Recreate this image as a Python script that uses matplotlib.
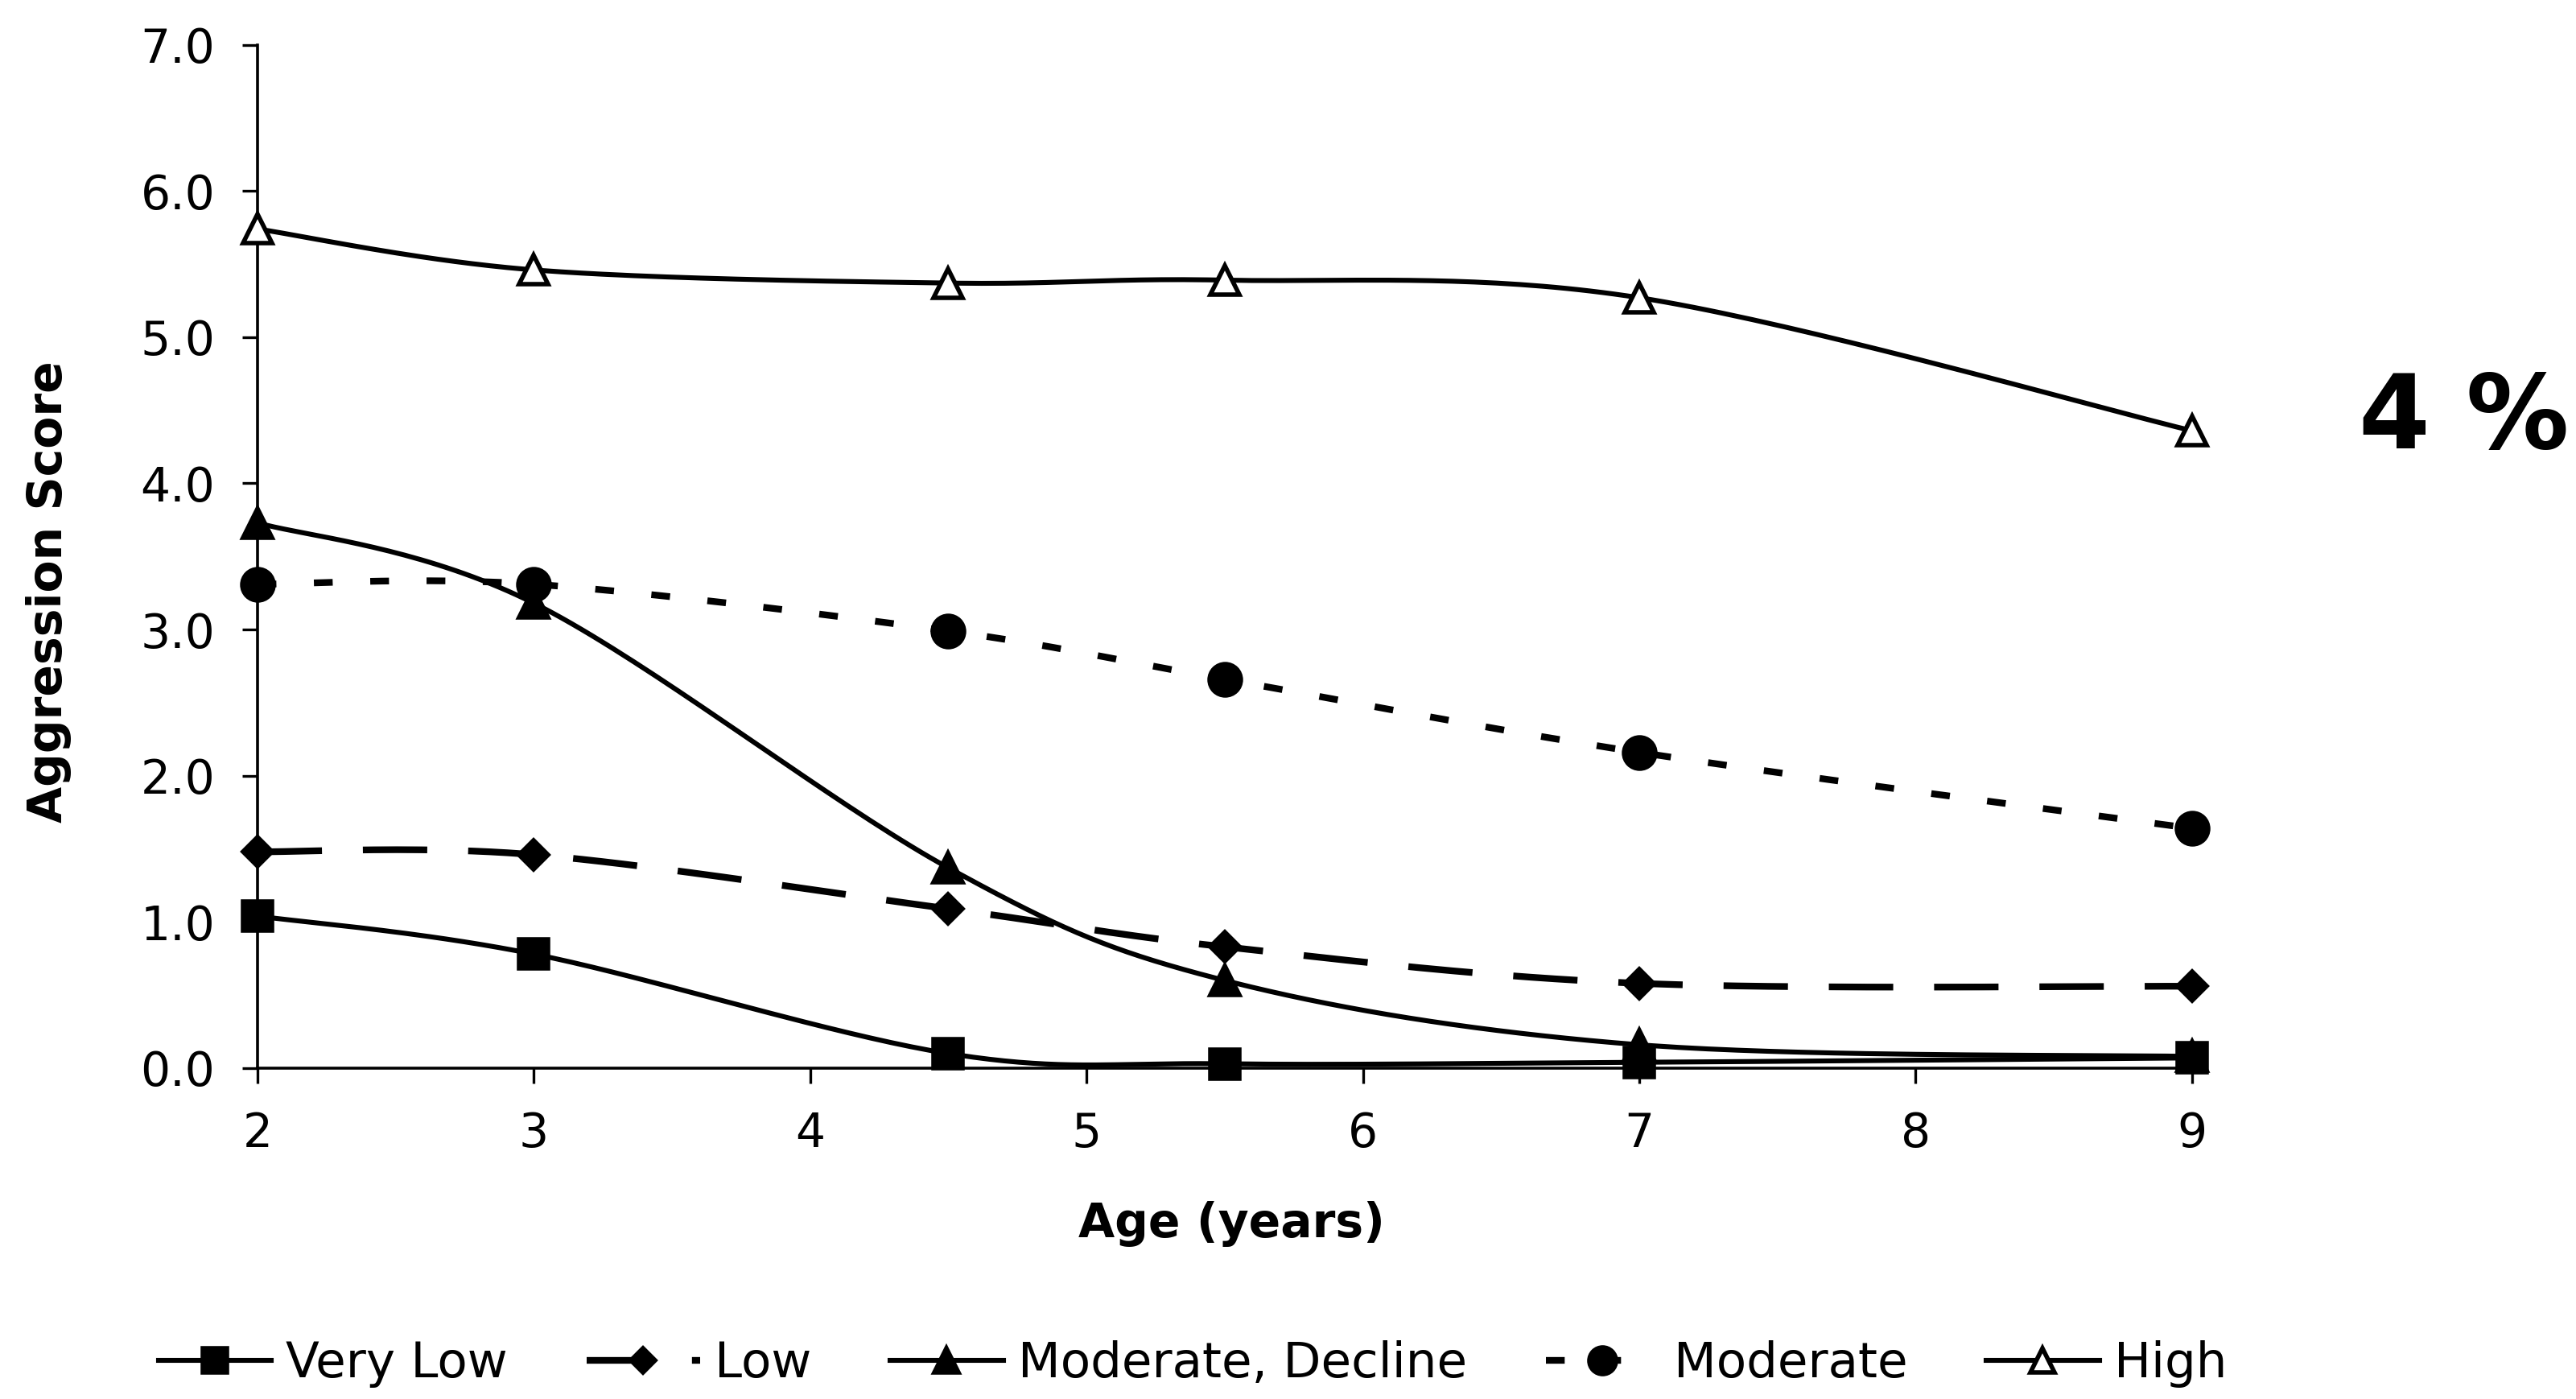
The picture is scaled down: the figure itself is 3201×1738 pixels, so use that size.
import matplotlib.pyplot as plt
from matplotlib.lines import Line2D
import numpy as np

plt.rcParams["font.family"] = "DejaVu Sans"

ages = [2, 3, 4.5, 5.5, 7, 9]
very_low = [1.04, 0.78, 0.10, 0.03, 0.04, 0.07]
low = [1.48, 1.46, 1.09, 0.83, 0.58, 0.56]
mod_decline = [3.73, 3.18, 1.37, 0.60, 0.16, 0.08]
moderate = [3.31, 3.31, 2.99, 2.66, 2.16, 1.64]
high = [5.74, 5.46, 5.37, 5.39, 5.27, 4.36]

labels = ["Very Low", "Low", "Moderate, Decline", "Moderate", "High"]
yticks = [0, 1, 2, 3, 4, 5, 6, 7]
xticks = [2, 3, 4, 5, 6, 7, 8, 9]


def excel_smooth(x, y, n=40):
    # bezier smoothing like spreadsheet "smoothed line" charts
    pts = np.column_stack([x, y]).astype(float)
    out = [pts[0]]
    t = np.linspace(0, 1, n)[1:, None]
    for i in range(len(pts) - 1):
        p0 = pts[i - 1] if i > 0 else pts[i]
        p1 = pts[i]
        p2 = pts[i + 1]
        p3 = pts[i + 2] if i + 2 < len(pts) else pts[i + 1]
        c1 = p1 + (p2 - p0) / 6
        c2 = p2 - (p3 - p1) / 6
        seg = (1 - t) ** 3 * p1 + 3 * (1 - t) ** 2 * t * c1 + 3 * (1 - t) * t ** 2 * c2 + t ** 3 * p2
        out.extend(seg)
    out = np.array(out)
    return out[:, 0], out[:, 1]


styles = [
    dict(marker="s", ms=13, mfc="black", lw=2.2, dashes=None),
    dict(marker="D", ms=9, mfc="black", lw=3.0, dashes=(9.6, 6.1)),
    dict(marker="^", ms=13, mfc="black", lw=2.2, dashes=None),
    dict(marker="o", ms=14, mfc="black", lw=3.0, dashes=(2.8, 5.6)),
    dict(marker="^", ms=13, mfc="white", lw=2.2, dashes=None),
]
series = [very_low, low, mod_decline, moderate, high]

fig = plt.figure(figsize=(16.005, 8.69), dpi=200)
ax = fig.add_axes([0.100, 0.2365, 0.753, 0.7315])

handles = []
for vals, st, lab in zip(series, styles, labels):
    sx, sy = excel_smooth(ages, vals)
    line, = ax.plot(sx, sy, color="black", lw=st["lw"], clip_on=False, zorder=2)
    if st["dashes"]:
        line.set_dashes(st["dashes"])
    ax.plot(ages, vals, linestyle="none", marker=st["marker"], ms=st["ms"],
            mfc=st["mfc"], mec="black", mew=2, clip_on=False, zorder=3)
    h = Line2D([], [], color="black", lw=st["lw"], marker=st["marker"], ms=st["ms"] * 0.85,
               mfc=st["mfc"], mec="black", mew=2)
    if st["dashes"]:
        h.set_dashes(st["dashes"])
    handles.append(h)

ax.set_xlim(2, 9.02)
ax.set_ylim(0, 7)
ax.set_xticks(xticks)
ax.set_yticks(yticks)
ax.set_yticklabels([f"{v:.1f}" for v in yticks])
ax.tick_params(axis="both", direction="out", length=7, width=1.2, labelsize=21, pad=12)
for s in ["top", "right"]:
    ax.spines[s].set_visible(False)
for s in ["left", "bottom"]:
    ax.spines[s].set_linewidth(1.3)

fig.text(0.019, 0.577, "Aggression Score", rotation=90, ha="center", va="center",
         fontsize=21, fontweight="bold")
fig.text(0.478, 0.125, "Age (years)", ha="center", va="center", fontsize=21, fontweight="bold")
fig.text(0.9566, 0.70, "4 %", ha="center", va="center", fontsize=46, fontweight="bold")

fig.legend(handles, labels, loc="center", bbox_to_anchor=(0.463, 0.025), ncol=5,
           frameon=False, fontsize=22, handlelength=2.3, handletextpad=0.3,
           columnspacing=1.6, numpoints=1)

plt.savefig("out.png", dpi=200)
plt.close(fig)
